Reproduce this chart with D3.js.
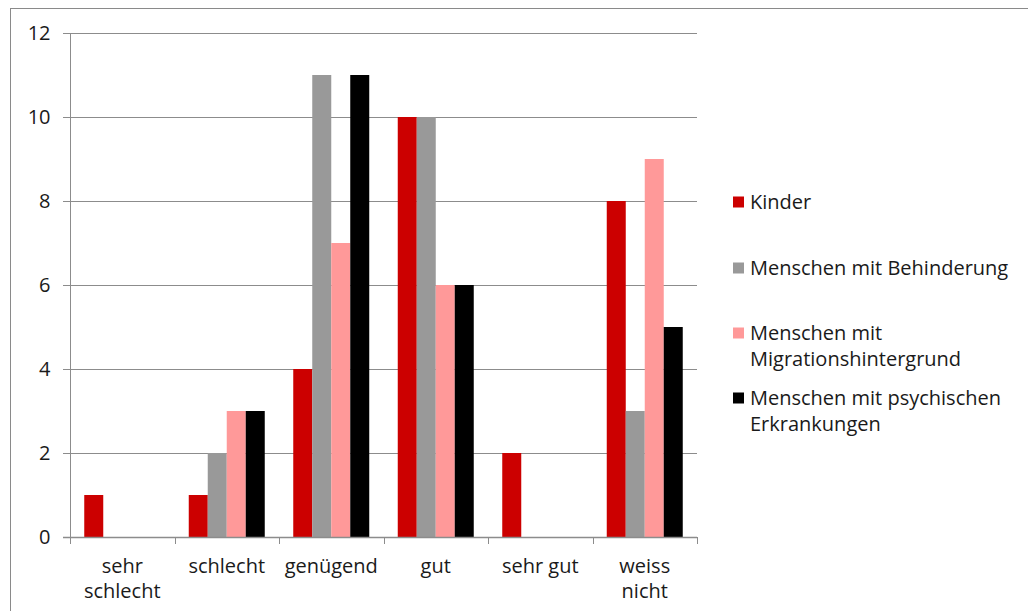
<!DOCTYPE html>
<html>
<head>
<meta charset="utf-8">
<script src="https://cdn.jsdelivr.net/npm/d3@7"></script>
<style>
	body { margin: 0; background: #fff; }
	svg { display: block; }
	text { font-family: "Open Sans", sans-serif; fill: #1a1a1a; }
</style>
</head>
<body>
<div id="chart"></div>
<script>
// data
var categories = [["sehr", "schlecht"], ["schlecht"], ["genügend"], ["gut"], ["sehr gut"], ["weiss", "nicht"]];
var seriesNames = [["Kinder"], ["Menschen mit Behinderung"], ["Menschen mit", "Migrationshintergrund"], ["Menschen mit psychischen", "Erkrankungen"]];
var kinder = [1, 1, 4, 10, 2, 8];
var behinderung = [0, 2, 11, 10, 0, 3];
var migration = [0, 3, 7, 6, 0, 9];
var psychisch = [0, 3, 11, 6, 0, 5];
var yTicks = [0, 2, 4, 6, 8, 10, 12];
var colors = ["#cc0000", "#999999", "#ff9999", "#000000"];

var series = [kinder, behinderung, migration, psychisch];

var width = 1028,
	height = 611;

var svg = d3.select("#chart").append("svg")
	.attr("width", width)
	.attr("height", height);

// outer frame (cut off at right and bottom)
svg.append("rect")
	.attr("x", 10.5).attr("y", 8.5)
	.attr("width", 1100).attr("height", 700)
	.attr("fill", "none")
	.attr("stroke", "#8a8a8a");

var x = d3.scaleBand()
	.domain(d3.range(categories.length))
	.range([70, 697]);

var bw = x.bandwidth(),
	pad = bw * 0.75 / 5.5;

var xs = d3.scaleBand()
	.domain(d3.range(series.length))
	.range([pad, bw - pad]);

var y = d3.scaleLinear()
	.domain([0, 12])
	.range([537, 33]);

// gridlines
svg.append("g")
	.selectAll("line")
	.data(yTicks.slice(1))
	.enter().append("line")
	.attr("x1", 63).attr("x2", 697)
	.attr("y1", function(d) { return Math.round(y(d)) + 0.5; })
	.attr("y2", function(d) { return Math.round(y(d)) + 0.5; })
	.attr("stroke", "#8c8c8c");

// bars
var groups = svg.append("g")
	.selectAll("g")
	.data(series)
	.enter().append("g")
	.attr("fill", function(d, i) { return colors[i]; });

groups.each(function(vals, si) {
	d3.select(this).selectAll("rect")
		.data(vals)
		.enter().append("rect")
		.attr("x", function(d, ci) { return x(ci) + xs(si); })
		.attr("width", xs.bandwidth())
		.attr("y", function(d) { return y(d); })
		.attr("height", function(d) { return y(0) - y(d); });
});

// y axis
var yAxis = svg.append("g")
	.attr("transform", "translate(70.5,0)");
yAxis.append("line")
	.attr("y1", y(12)).attr("y2", y(0))
	.attr("stroke", "#8c8c8c");
yAxis.selectAll(".tick")
	.data(yTicks)
	.enter().append("line")
	.attr("x1", -7).attr("x2", 0)
	.attr("y1", function(d) { return Math.round(y(d)) + 0.5; })
	.attr("y2", function(d) { return Math.round(y(d)) + 0.5; })
	.attr("stroke", "#8c8c8c");
yAxis.selectAll("text")
	.data(yTicks)
	.enter().append("text")
	.attr("x", -20)
	.attr("y", function(d) { return y(d); })
	.attr("dy", "0.35em")
	.attr("text-anchor", "end")
	.style("font-size", "20px")
	.text(function(d) { return d; });

// x axis
var xAxis = svg.append("g");
xAxis.append("line")
	.attr("x1", 63).attr("x2", 697)
	.attr("y1", Math.round(y(0)) + 0.5).attr("y2", Math.round(y(0)) + 0.5)
	.attr("stroke", "#8c8c8c").attr("stroke-width", 1.5);
xAxis.selectAll(".tick")
	.data(d3.range(categories.length + 1))
	.enter().append("line")
	.attr("x1", function(d) { return Math.round(70 + d * bw) + 0.5; })
	.attr("x2", function(d) { return Math.round(70 + d * bw) + 0.5; })
	.attr("y1", y(0)).attr("y2", y(0) + 7)
	.attr("stroke", "#8c8c8c");
xAxis.selectAll("text")
	.data(categories)
	.enter().append("text")
	.attr("text-anchor", "middle")
	.style("font-size", "20px")
	.each(function(lines, i) {
		d3.select(this).selectAll("tspan")
			.data(lines)
			.enter().append("tspan")
			.attr("x", x(i) + bw / 2)
			.attr("y", function(d, j) { return 573 + j * 25; })
			.text(function(d) { return d; });
	});

// legend
var legendY = [202, 268, 333, 398];
var legend = svg.append("g")
	.selectAll("g")
	.data(seriesNames)
	.enter().append("g")
	.attr("transform", function(d, i) { return "translate(733," + legendY[i] + ")"; });
legend.append("rect")
	.attr("x", 0).attr("y", -5.5)
	.attr("width", 11).attr("height", 11)
	.attr("fill", function(d, i) { return colors[i]; });
legend.append("text")
	.style("font-size", "20px")
	.each(function(lines) {
		d3.select(this).selectAll("tspan")
			.data(lines)
			.enter().append("tspan")
			.attr("x", 17)
			.attr("y", function(d, j) { return j * 26; })
			.attr("dy", "0.35em")
			.text(function(d) { return d; });
	});
</script>
</body>
</html>
